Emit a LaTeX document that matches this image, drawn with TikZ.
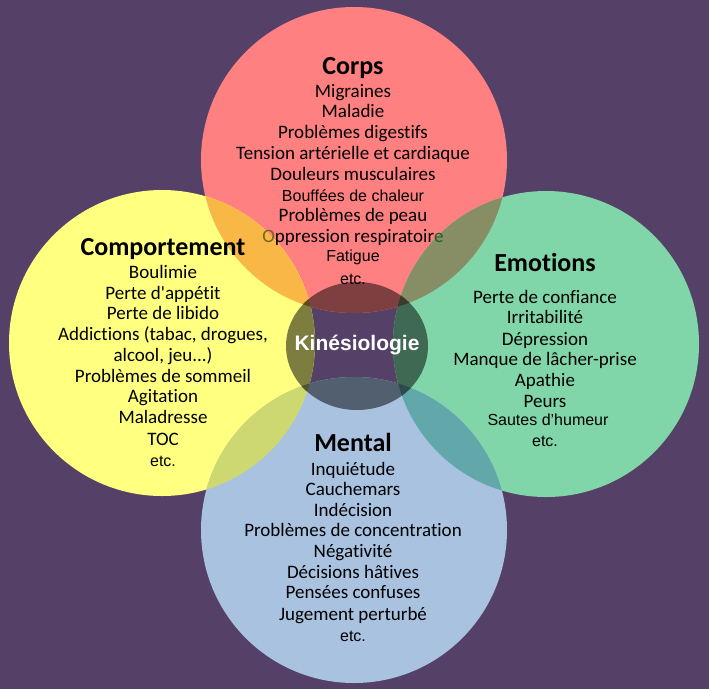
\documentclass[tikz,border=0pt]{standalone}
\usepackage{fontspec}
\setmainfont{Carlito}[Ligatures={NoCommon}]
\newfontfamily\arialf{Liberation Sans}
\definecolor{bgc}{RGB}{85,64,104}
\definecolor{redc}{RGB}{255,128,128}
\definecolor{yelc}{RGB}{255,255,128}
\definecolor{grnc}{RGB}{128,214,168}
\definecolor{bluc}{RGB}{168,194,224}
\definecolor{orac}{RGB}{249,184,70}
\definecolor{olic}{RGB}{135,142,102}
\definecolor{limc}{RGB}{206,216,112}
\definecolor{teac}{RGB}{98,168,170}
\definecolor{otxt}{RGB}{110,105,25}
\definecolor{gtxt}{RGB}{25,95,45}
\tikzset{
  ln/.style={anchor=base, inner sep=0pt, text=black, font=\fontsize{19}{20}\selectfont},
  ar/.style={anchor=base, inner sep=0pt, text=black, font=\arialf\fontsize{16}{18}\selectfont},
  ttl/.style={anchor=base, inner sep=0pt, text=black, font=\bfseries\fontsize{26}{28}\selectfont},
}
\begin{document}
\begin{tikzpicture}[x=1pt,y=-1pt]
\fill[bgc] (0,0) rectangle (709,689);
\useasboundingbox (0,0) rectangle (709,689);
\coordinate (cR) at (354,160);
\coordinate (cY) at (162,343);
\coordinate (cG) at (546,344);
\coordinate (cB) at (354,530);
\coordinate (cK) at (357,346);
% circles
\fill[redc] (cR) circle[radius=153];
\fill[yelc] (cY) circle[radius=153];
\fill[grnc] (cG) circle[radius=153];
\fill[bluc] (cB) circle[radius=153];
% overlaps
\begin{scope}
  \clip (cR) circle[radius=153];
  \fill[orac] (cY) circle[radius=153];
  \fill[olic] (cG) circle[radius=153];
\end{scope}
\begin{scope}
  \clip (cB) circle[radius=153];
  \fill[limc] (cY) circle[radius=153];
  \fill[teac] (cG) circle[radius=153];
\end{scope}
% central dark disc
\begin{scope}
  \clip (cK) ellipse[x radius=71, y radius=64];
  \fill[redc!49!black] (cR) circle[radius=153];
  \fill[yelc!49!black] (cY) circle[radius=153];
  \fill[grnc!49!black] (cG) circle[radius=153];
  \fill[bluc!49!black] (cB) circle[radius=153];
  \begin{scope}
    \clip (cR) circle[radius=153];
    \fill[orac!38!black] (cY) circle[radius=153];
    \fill[olic!42!black] (cG) circle[radius=153];
  \end{scope}
  \begin{scope}
    \clip (cB) circle[radius=153];
    \fill[limc!40!black] (cY) circle[radius=153];
    \fill[teac!45!black] (cG) circle[radius=153];
  \end{scope}
\end{scope}
\node[anchor=base, inner sep=0pt, text=white, font=\arialf\bfseries\fontsize{21}{23}\selectfont] (kin) at (357,350) {Kinésiologie};
% Corps
\node[ttl] (corps) at (353,74) {Corps};
\node[ln] (c1) at (353,97.3) {Migraines};
\node[ln] (c2) at (353,117.7) {Maladie};
\node[ln] (c3) at (353,138.3) {Problèmes digestifs};
\node[ln] (c4) at (353,159.3) {Tension artérielle et cardiaque};
\node[ln] (c5) at (353,180) {Douleurs musculaires};
\node[ar] (c6) at (353,201) {Bouffées de chaleur};
\node[ln] (c7) at (353,221.7) {Problèmes de peau};
\node[ln] (c8) at (353,242.7) {{\color{otxt}O}ppression respiratoir{\color{gtxt}e}};
\node[ar] (c9) at (353,261) {Fatigue};
\node[ar] (c10) at (353,284) {etc.};
% Comportement
\node[ttl] (comp) at (163,255) {Comportement};
\node[ln] (p1) at (163,278.3) {Boulimie};
\node[ln] (p2) at (163,299) {Perte d\textquotesingle appétit};
\node[ln] (p3) at (163,319.3) {Perte de libido};
\node[ln] (p4) at (163,340.7) {Addictions (tabac, drogues,};
\node[ln] (p5) at (163,361.7) {alcool, jeu...)};
\node[ln] (p6) at (163,382) {Problèmes de sommeil};
\node[ln] (p7) at (163,402.7) {Agitation};
\node[ln] (p8) at (163,423.3) {Maladresse};
\node[ln] (p9) at (163,445) {TOC};
\node[ar] (p10) at (163,466.7) {etc.};
% Emotions
\node[ttl] (emo) at (545,271.7) {Emotions};
\node[ln] (e1) at (545,303.3) {Perte de confiance};
\node[ln] (e2) at (545,323.3) {Irritabilité};
\node[ln] (e3) at (545,345) {Dépression};
\node[ln] (e4) at (545,365.7) {Manque de lâcher-prise};
\node[ln] (e5) at (545,386) {Apathie};
\node[ln] (e6) at (545,407.3) {Peurs};
\node[ar] (e7) at (548,425) {Sautes d’humeur};
\node[ar] (e8) at (545,446.7) {etc.};
% Mental
\node[ttl] (ment) at (353,451.7) {Mental};
\node[ln] (m1) at (353,475) {Inquiétude};
\node[ln] (m2) at (353,495) {Cauchemars};
\node[ln] (m3) at (353,516) {Indécision};
\node[ln] (m4) at (353,536.7) {Problèmes de concentration};
\node[ln] (m5) at (353,557.3) {Négativité};
\node[ln] (m6) at (353,578) {Décisions hâtives};
\node[ln] (m7) at (353,598.7) {Pensées confuses};
\node[ln] (m8) at (353,620) {Jugement perturbé};
\node[ar] (m9) at (353,641.7) {etc.};
\end{tikzpicture}
\end{document}
